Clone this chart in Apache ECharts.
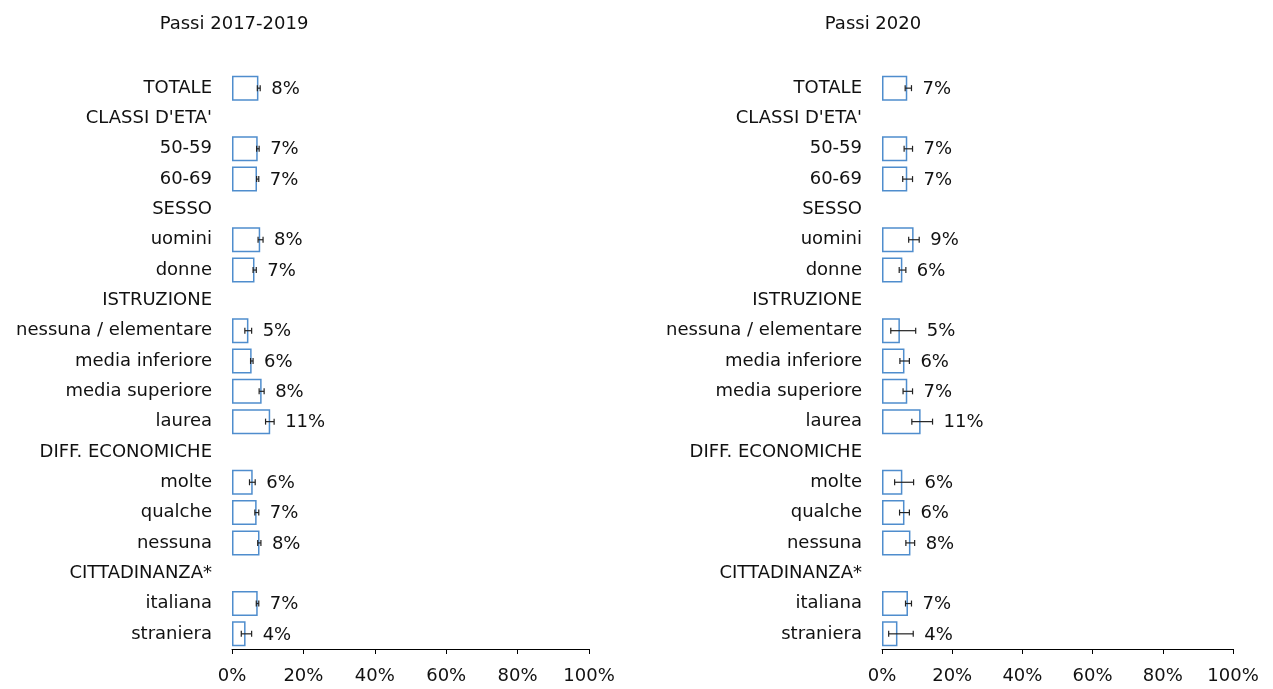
<!DOCTYPE html>
<html>
<head>
    <meta charset="utf-8">
    <script src="https://cdn.jsdelivr.net/npm/echarts@6/dist/echarts.min.js"></script>
    <style>
        html, body { margin: 0; padding: 0; background: #fff; }
        #main { width: 1273px; height: 689px; }
    </style>
</head>
<body>
<div id="main"></div>
<script type="text/javascript">
    // categorie (le righe senza valore sono intestazioni di gruppo)
    var categories = ['TOTALE', "CLASSI D'ETA'", '50-59', '60-69', 'SESSO', 'uomini', 'donne',
        'ISTRUZIONE', 'nessuna / elementare', 'media inferiore', 'media superiore', 'laurea',
        'DIFF. ECONOMICHE', 'molte', 'qualche', 'nessuna', 'CITTADINANZA*', 'italiana', 'straniera'];
    var ticks = [0, 20, 40, 60, 80, 100];

    // Passi 2017-2019
    var valA = [7.4, null, 7.2, 7.0, null, 7.9, 6.3, null, 4.6, 5.5, 8.3, 10.7, null, 5.8, 6.9, 7.7, null, 7.2, 3.8];
    var lowA = [7.1, null, 6.9, 6.9, null, 7.3, 5.9, null, 3.6, 5.2, 7.6, 9.4, null, 4.9, 6.4, 7.2, null, 6.8, 2.6];
    var highA = [7.9, null, 7.6, 7.5, null, 8.7, 6.8, null, 5.5, 5.9, 9.0, 11.8, null, 6.5, 7.5, 8.1, null, 7.5, 5.5];
    var labA = ['8%', '', '7%', '7%', '', '8%', '7%', '', '5%', '6%', '8%', '11%', '', '6%', '7%', '8%', '', '7%', '4%'];

    // Passi 2020
    var valB = [7.2, null, 7.2, 7.2, null, 9.0, 5.8, null, 5.1, 6.4, 7.2, 11.0, null, 5.8, 6.4, 8.1, null, 7.4, 4.4];
    var lowB = [6.6, null, 6.3, 5.9, null, 7.6, 4.9, null, 2.5, 5.1, 6.0, 8.5, null, 3.6, 5.0, 6.8, null, 6.7, 1.9];
    var highB = [8.4, null, 8.7, 8.7, null, 10.6, 6.8, null, 9.6, 7.8, 8.7, 14.4, null, 9.0, 7.8, 9.3, null, 8.4, 8.9];
    var labB = ['7%', '', '7%', '7%', '', '9%', '6%', '', '5%', '6%', '7%', '11%', '', '6%', '6%', '8%', '', '7%', '4%'];

    var FONT = 'DejaVu Sans';
    var FS = 18;
    var TXT = '#111';

    function errData(low, high) {
        var d = [];
        for (var i = 0; i < low.length; i++) {
            if (low[i] != null) d.push([low[i], high[i], i]);
        }
        return d;
    }
    function labData(high, lab) {
        var d = [];
        for (var i = 0; i < high.length; i++) {
            if (high[i] != null) d.push([high[i], i, lab[i]]);
        }
        return d;
    }

    function renderErr(params, api) {
        var a = api.coord([api.value(0), api.value(2)]);
        var b = api.coord([api.value(1), api.value(2)]);
        var h = 3;
        var st = { stroke: '#222', lineWidth: 1.2 };
        return {
            type: 'group',
            children: [
                { type: 'line', shape: { x1: a[0], y1: a[1], x2: b[0], y2: b[1] }, style: st },
                { type: 'line', shape: { x1: a[0], y1: a[1] - h, x2: a[0], y2: a[1] + h }, style: st },
                { type: 'line', shape: { x1: b[0], y1: b[1] - h, x2: b[0], y2: b[1] + h }, style: st }
            ]
        };
    }
    function renderLab(params, api) {
        var p = api.coord([api.value(0), api.value(1)]);
        return {
            type: 'text',
            x: p[0] + 11,
            y: p[1] + 1,
            style: {
                text: api.value(2),
                fill: TXT,
                fontSize: FS,
                fontFamily: FONT,
                align: 'left',
                verticalAlign: 'middle'
            }
        };
    }

    function xAx(idx) {
        return {
            type: 'value', gridIndex: idx, min: 0, max: 100, interval: 20,
            axisLine: { show: true, lineStyle: { color: '#000', width: 1 } },
            axisTick: { show: true, length: 5, lineStyle: { color: '#000' } },
            axisLabel: { color: TXT, fontSize: FS, fontFamily: FONT, margin: 18,
                formatter: function (v) { return v + '%'; } },
            splitLine: { show: false }
        };
    }
    function yAx(idx) {
        return {
            type: 'category', gridIndex: idx, inverse: true, data: categories,
            axisLine: { show: false }, axisTick: { show: false },
            axisLabel: { color: TXT, fontSize: FS, fontFamily: FONT, margin: 20 }
        };
    }
    var barStyle = { color: 'rgba(255,255,255,0)', borderColor: '#4F8DCD', borderWidth: 1.5 };

    var myChart = echarts.init(document.getElementById('main'), null, { renderer: 'canvas' });
    var option = {
        backgroundColor: '#fff',
        animation: false,
        title: [
            { text: 'Passi 2017-2019', left: 229, top: 10, textAlign: 'center',
                textStyle: { color: TXT, fontSize: FS, fontWeight: 'normal', fontFamily: FONT } },
            { text: 'Passi 2020', left: 868, top: 10, textAlign: 'center',
                textStyle: { color: TXT, fontSize: FS, fontWeight: 'normal', fontFamily: FONT } }
        ],
        grid: [
            { left: 232, width: 357, top: 73, bottom: 40 },
            { left: 882, width: 351, top: 73, bottom: 40 }
        ],
        xAxis: [xAx(0), xAx(1)],
        yAxis: [yAx(0), yAx(1)],
        series: [
            { type: 'bar', xAxisIndex: 0, yAxisIndex: 0, data: valA, barWidth: 25, itemStyle: barStyle },
            { type: 'custom', xAxisIndex: 0, yAxisIndex: 0, data: errData(lowA, highA),
                encode: { x: [0, 1], y: 2 }, renderItem: renderErr, z: 3 },
            { type: 'custom', xAxisIndex: 0, yAxisIndex: 0, data: labData(highA, labA),
                encode: { x: 0, y: 1 }, renderItem: renderLab, z: 4 },
            { type: 'bar', xAxisIndex: 1, yAxisIndex: 1, data: valB, barWidth: 25, itemStyle: barStyle },
            { type: 'custom', xAxisIndex: 1, yAxisIndex: 1, data: errData(lowB, highB),
                encode: { x: [0, 1], y: 2 }, renderItem: renderErr, z: 3 },
            { type: 'custom', xAxisIndex: 1, yAxisIndex: 1, data: labData(highB, labB),
                encode: { x: 0, y: 1 }, renderItem: renderLab, z: 4 }
        ]
    };
    myChart.setOption(option);
</script>
</body>
</html>
